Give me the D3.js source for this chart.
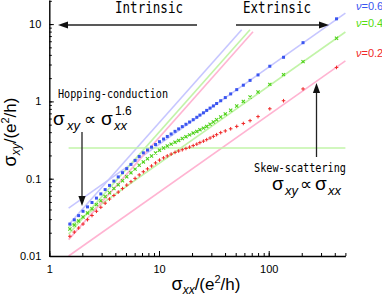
<!DOCTYPE html>
<html lang='en'>
<head>
	<meta charset='UTF-8'>
	<title>Hall conductivity scaling</title>
	<style>
		body { margin: 0; background: #fff; }
		svg { display: block; }
	</style>
</head>
<body>

<svg></svg>

<script src='https://d3js.org/d3.v7.min.js'></script>
<script>
// sigma_xx values shared by the three filling factors
const sigmaXX = [1.54, 1.69, 1.85, 2.03, 2.23, 2.45, 2.69, 2.95, 3.23, 3.54, 3.88, 4.25, 4.65, 5.08,
    5.55, 6.05, 6.6, 7.2, 7.85, 8.55, 9.3, 10.1, 11.0, 11.9, 12.9, 14.0, 15.1, 16.3, 17.6, 19.0,
    20.5, 22.1, 23.6, 25.4, 27.2, 29.2, 31.3, 33.5, 36.5, 40.2, 45.0, 51.1, 58.7, 67.6, 79.9,
    102.3, 136.5, 205.5, 415]

const sigmaXY06 = [0.0259, 0.0294, 0.0333, 0.0379, 0.0432, 0.0492, 0.0561, 0.0636, 0.0723, 0.0819,
    0.0931, 0.1055, 0.1196, 0.135, 0.153, 0.1725, 0.194, 0.216, 0.235, 0.256, 0.277, 0.301, 0.326,
    0.352, 0.379, 0.410, 0.441, 0.472, 0.506, 0.541, 0.580, 0.623, 0.665, 0.712, 0.765, 0.819,
    0.874, 0.939, 1.02, 1.12, 1.25, 1.42, 1.62, 1.87, 2.20, 2.85, 3.72, 5.75, 11.7]

const sigmaXY04 = [0.0223, 0.0251, 0.0283, 0.0319, 0.0361, 0.0408, 0.0462, 0.0519, 0.0587, 0.0659,
    0.0745, 0.0837, 0.0942, 0.106, 0.119, 0.133, 0.149, 0.165, 0.181, 0.197, 0.215, 0.234, 0.250,
    0.265, 0.280, 0.297, 0.313, 0.331, 0.350, 0.369, 0.389, 0.409, 0.431, 0.451, 0.475, 0.507,
    0.541, 0.580, 0.628, 0.689, 0.769, 0.874, 1.00, 1.14, 1.32, 1.66, 2.22, 3.27, 6.55]

const sigmaXY02 = [0.0180, 0.0204, 0.0230, 0.0259, 0.0295, 0.0334, 0.0379, 0.0427, 0.0482, 0.0545,
    0.0606, 0.0671, 0.0745, 0.0827, 0.0915, 0.101, 0.112, 0.123, 0.134, 0.146, 0.160, 0.174, 0.186,
    0.197, 0.208, 0.219, 0.228, 0.237, 0.246, 0.256, 0.268, 0.280, 0.293, 0.306, 0.320, 0.336,
    0.353, 0.371, 0.394, 0.415, 0.442, 0.475, 0.518, 0.563, 0.636, 0.802, 1.02, 1.45, 2.75]

const seriesNames = ['0.6', '0.4', '0.2']

// fit lines, [x0, x1] and [y0, y1]
const extrinsicX = [1.5, 500]
const extrinsicY06 = [0.0417, 13.9]
const extrinsicY04 = [0.0237, 7.9]
const extrinsicY02 = [0.01, 3.35]
const hoppingX06 = [1.5, 56.7]
const hoppingX04 = [1.5, 67.5]
const hoppingX02 = [1.5, 71.9]
const hoppingY06 = [0.0254, 8.47]
const hoppingY04 = [0.0192, 8.47]
const hoppingY02 = [0.0163, 7.97]
const plateauX = [1.5, 500]
const plateauY = [0.25, 0.25]

const xTickLabels = [1, 10, 100]
const yTickLabels = [0.01, 0.1, 1, 10]

const width = 382
const height = 296
const font = "'Liberation Sans', Arial, sans-serif"
const mono = "'DejaVu Sans Mono', monospace"

const svg = d3.select('svg')
    .attr('width', width)
    .attr('height', height)

const x = d3.scaleLog().domain([1, 500]).range([49.3, 345.4])
const y = d3.scaleLog().domain([0.01, 20.5]).range([256, 0])

const minor = (lo, hi) => {
    const t = []
    for (let e = lo; e <= hi; e++)
        for (let m = 1; m < 10; m++) t.push(m * Math.pow(10, e))
    return t
}

// fit lines
const line = d3.line().x(d => x(d[0])).y(d => y(d[1]))
const fits = [
    { xs: extrinsicX, ys: extrinsicY06, color: '#c6c6ff' },
    { xs: extrinsicX, ys: extrinsicY04, color: '#c2f4a8' },
    { xs: extrinsicX, ys: extrinsicY02, color: '#ffb4d2' },
    { xs: hoppingX06, ys: hoppingY06, color: '#c6c6ff' },
    { xs: hoppingX04, ys: hoppingY04, color: '#c2f4a8' },
    { xs: hoppingX02, ys: hoppingY02, color: '#ffb4d2' },
    { xs: plateauX, ys: plateauY, color: '#c2f4a8' }
]
svg.append('g').selectAll('path')
    .data(fits)
    .join('path')
    .attr('d', d => line(d3.zip(d.xs, d.ys)))
    .attr('fill', 'none')
    .attr('stroke', d => d.color)
    .attr('stroke-width', 1.6)

// data points
const pts06 = d3.zip(sigmaXX, sigmaXY06)
const pts04 = d3.zip(sigmaXX, sigmaXY04)
const pts02 = d3.zip(sigmaXX, sigmaXY02)

svg.append('g').selectAll('rect')
    .data(pts06)
    .join('rect')
    .attr('x', d => x(d[0]) - 1.5)
    .attr('y', d => y(d[1]) - 1.5)
    .attr('width', 3)
    .attr('height', 3)
    .attr('fill', '#3a55f0')

svg.append('g').selectAll('path')
    .data(pts04)
    .join('path')
    .attr('d', d => {
        const cx = x(d[0]), cy = y(d[1]), r = 1.6
        return `M${cx - r},${cy - r}L${cx + r},${cy + r}M${cx - r},${cy + r}L${cx + r},${cy - r}`
    })
    .attr('stroke', '#4fd21a')
    .attr('stroke-width', 1.1)

svg.append('g').selectAll('path')
    .data(pts02)
    .join('path')
    .attr('d', d => {
        const cx = x(d[0]), cy = y(d[1]), r = 1.8
        return `M${cx - r},${cy}L${cx + r},${cy}M${cx},${cy - r}L${cx},${cy + r}`
    })
    .attr('stroke', '#f02828')
    .attr('stroke-width', 1)

// axes, ticks inside
const yAxis = svg.append('g')
    .attr('transform', `translate(${x.range()[0]},0)`)
    .call(d3.axisLeft(y).tickValues(yTickLabels).tickSize(-4.5).tickSizeOuter(0)
        .tickPadding(8).tickFormat(d3.format('')))
yAxis.append('g')
    .call(d3.axisLeft(y).tickValues(minor(-2, 1).filter(v => v <= 20.5)).tickSize(-2.5)
        .tickSizeOuter(0).tickFormat(''))
    .select('.domain').remove()

const xAxis = svg.append('g')
    .attr('transform', `translate(0,${y.range()[0]})`)
    .call(d3.axisBottom(x).tickValues(xTickLabels).tickSize(-5).tickSizeOuter(0)
        .tickPadding(9).tickFormat(d3.format('')))
xAxis.append('g')
    .call(d3.axisBottom(x).tickValues(minor(0, 2).filter(v => v <= 500)).tickSize(-3)
        .tickSizeOuter(0).tickFormat(''))
    .select('.domain').remove()

svg.selectAll('.domain').attr('stroke-width', 1.4)
svg.selectAll('.tick line').attr('stroke-width', 1)
svg.selectAll('.tick text')
    .attr('font-family', font)
    .attr('font-size', 11)
    .attr('fill', '#000')

// rich text helper: parts [text, size, dy, italic]
function rich(g, px, py, parts, anchor) {
    const t = g.append('text')
        .attr('x', px).attr('y', py)
        .attr('font-family', font)
        .attr('text-anchor', anchor || 'start')
    parts.forEach(p => {
        t.append('tspan')
            .attr('font-size', p[1])
            .attr('dy', p[2] || 0)
            .attr('font-style', p[3] ? 'italic' : 'normal')
            .text(p[0])
    })
    return t
}

// axis titles
rich(svg, 206, 290, [['σ', 18], ['xx', 12, 4, true], ['/(e', 17, -4], ['2', 11, -7], ['/h)', 17, 7]], 'middle')
rich(svg.append('g').attr('transform', 'translate(16,132) rotate(-90)'), 0, 0,
    [['σ', 18], ['xy', 12, 4, true], ['/(e', 17, -4], ['2', 11, -7], ['/h)', 17, 7]], 'middle')

// legend labels
const legendColors = ['#3a55f0', '#55dd10', '#f02828']
const legendY = [9.5, 27, 57]
seriesNames.forEach((n, i) => {
    rich(svg, 356, legendY[i], [['ν', 11, 0, true], ['=' + n, 11]]).attr('fill', legendColors[i])
})

// regime labels
const mtext = (s, px, py, size, len) => svg.append('text')
    .attr('x', px).attr('y', py)
    .attr('font-family', mono)
    .attr('font-size', size)
    .attr('textLength', len)
    .attr('lengthAdjust', 'spacingAndGlyphs')
    .text(s)
mtext('Intrinsic', 115, 12.5, 15, 68)
mtext('Extrinsic', 243, 12.5, 15, 68)
mtext('Hopping-conduction', 58, 98, 12.5, 110)
mtext('Skew-scattering', 254, 171.5, 12.5, 92)

// formulas
rich(svg, 53, 125, [['σ', 19]])
rich(svg, 67, 130, [['xy', 13, 0, true]])
rich(svg, 84, 125, [['∝', 17]])
rich(svg, 101, 125, [['σ', 19]])
rich(svg, 114, 130, [['xx', 13, 0, true]])
rich(svg, 115, 115, [['1.6', 12]])

rich(svg, 272, 189.5, [['σ', 19]])
rich(svg, 285, 195, [['xy', 13, 0, true]])
rich(svg, 300, 189.5, [['∝', 17]])
rich(svg, 315, 189.5, [['σ', 19]])
rich(svg, 328, 195, [['xx', 13, 0, true]])

// arrows
function arrow(x1, y1, x2, y2) {
    const a = Math.atan2(y2 - y1, x2 - x1)
    const L = 10, W = 3.6
    const bx = x2 - L * Math.cos(a), by = y2 - L * Math.sin(a)
    svg.append('line')
        .attr('x1', x1).attr('y1', y1).attr('x2', bx).attr('y2', by)
        .attr('stroke', '#222').attr('stroke-width', 1.3)
    svg.append('path')
        .attr('d', `M${x2},${y2}L${bx - W * Math.sin(a)},${by + W * Math.cos(a)}L${bx + W * Math.sin(a)},${by - W * Math.cos(a)}Z`)
        .attr('fill', '#111')
}
arrow(197, 25, 58, 25)
arrow(236, 25, 329, 25)
arrow(82, 132, 82, 206)
arrow(316.5, 157, 316.5, 83)
</script>
</body>
</html>
